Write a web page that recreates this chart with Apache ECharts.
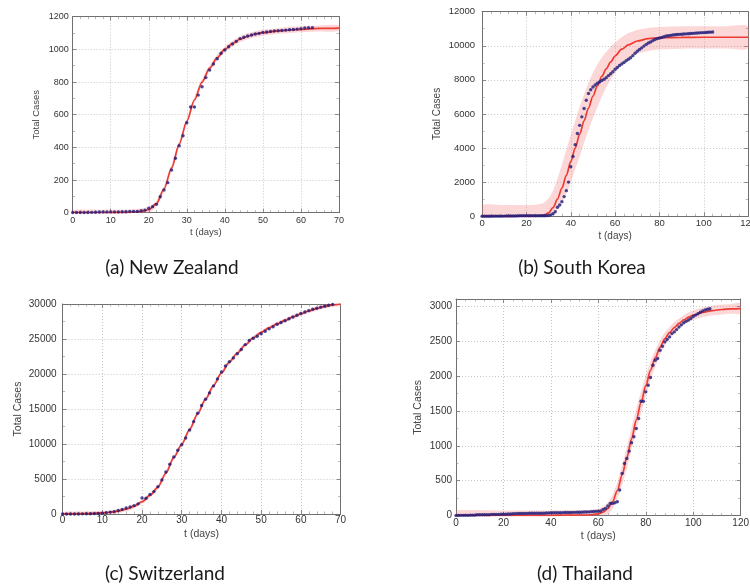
<!DOCTYPE html>
<html>
<head>
<meta charset="utf-8">
<script src="https://cdn.jsdelivr.net/npm/echarts@6/dist/echarts.min.js"></script>
<style>
  html, body { margin: 0; padding: 0; background: #fff; }
  #main { width: 750px; height: 586px; }
</style>
</head>
<body>
<div id="main"></div>
<script>
// observed total cases, one value per day (index = t in days)
const nzCases = [1,1,1,1,1,2,3,4,5,5,5,5,5,6,6,8,8,8,12,16,27,37,51,98,139,184,261,333,410,471,551,647,647,720,771,827,873,910,943,976,996,1016,1033,1049,1066,1074,1082,1088,1094,1098,1104,1106,1110,1112,1114,1116,1118,1120,1122,1124,1126,1131,1133,1133];
const krCases = [1,1,1,1,1,2,3,4,4,4,6,11,12,15,15,16,19,23,24,24,25,27,28,28,28,28,28,29,30,31,
  40,80,150,265,525,660,855,1150,1500,2000,2900,3500,4200,4850,5330,5830,6320,6800,7200,7420,
  7580,7700,7800,7880,7960,8040,8130,8250,8360,8480,8620,8730,8840,8930,9020,9120,9210,9300,9420,9560,
  9680,9780,9880,9980,10080,10160,10220,10300,10370,10420,10460,10490,10530,10570,10590,10610,10630,10650,10660,10670,
  10680,10690,10700,10710,10720,10730,10740,10750,10760,10770,10775,10780,10790,10800,10810];
const chCases = [1,1,8,8,10,18,27,42,56,90,
  120,200,270,330,500,660,850,1000,1200,1450,
  2300,2250,2800,3200,3900,4850,6000,7100,8150,9100,
  9900,10850,12000,13200,14400,15500,16400,17300,18300,19300,
  20300,21150,21750,22300,22900,23500,24200,24800,25100,25400,
  25750,26100,26450,26750,27100,27350,27600,27900,28150,28400,
  28650,28850,29050,29250,29400,29550,29680,29820,29950];
const thCases = [4,4,5,5,5,5,8,8,8,14,
  14,14,14,14,14,19,19,19,19,21,
  22,22,25,25,28,30,32,32,33,33,
  33,34,34,35,35,35,35,36,38,40,
  42,42,43,43,43,44,45,45,46,47,
  48,50,50,50,52,53,55,58,60,62,
  65,67,90,105,138,176,176,186,200,367,
  605,748,819,924,1043,1129,1248,1391,1638,1638,
  1772,1867,1977,2153,2224,2248,2367,2424,2486,2520,
  2558,2605,2629,2662,2700,2730,2760,2780,2800,2820,
  2850,2870,2890,2910,2930,2945,2955,2960];

// fitted curve with its confidence band, sampled at fitT days
const nzFitT = [0,10,15,18,20,22,24,26,28,30,32,34,36,38,40,42,44,46,48,50,55,60,65,70];
const nzFit = [0,0,2,8,18,55,145,275,420,560,690,800,885,950,1000,1035,1062,1080,1093,1102,1115,1123,1128,1130];
const nzLo = [0,0,0,0,0,37,127,257,402,542,672,782,867,932,982,1017,1044,1062,1075,1084,1097,1105,1110,1112];
const nzHi = [18,18,20,26,36,73,163,293,438,578,708,818,903,968,1018,1053,1080,1098,1111,1120,1133,1141,1146,1148];

const krFitT = [0,10,20,25,28,30,32,34,36,38,40,42,44,46,48,50,52,54,56,58,60,63,66,70,75,80,90,100,110,120];
const krFit = [0,0,0,10,60,200,500,1000,1650,2400,3200,4000,4800,5600,6350,7050,7650,8200,8650,9050,9400,9800,10050,10280,10420,10470,10490,10500,10500,10500];
const krLo = [0,0,0,0,0,0,80,350,750,1300,2000,2750,3500,4300,5050,5750,6400,7000,7550,8000,8400,8900,9250,9530,9700,9780,9830,9840,9840,9840];
const krHi = [650,650,650,680,800,1050,1500,2200,3000,3900,4750,5600,6400,7150,7850,8400,8900,9300,9650,9950,10200,10500,10750,10930,11050,11100,11150,11150,11150,11150];

const chFitT = [0,5,10,12,14,16,18,20,22,24,26,28,30,32,34,36,38,40,42,44,46,48,50,52,54,56,58,60,62,64,66,68,70];
const chFit = [20,50,150,250,420,700,1100,1750,2650,3850,5850,8050,9950,12100,14300,16400,18350,20150,21700,23000,24150,25150,25950,26600,27150,27650,28150,28600,29000,29350,29650,29880,30000];
const chLo = [0,0,0,0,120,400,800,1450,2350,3550,5550,7750,9650,11800,14000,16100,18050,19850,21400,22700,23850,24850,25650,26300,26850,27350,27850,28300,28700,29050,29350,29580,29700];
const chHi = [320,350,450,550,720,1000,1400,2050,2950,4150,6150,8350,10250,12400,14600,16700,18650,20450,22000,23300,24450,25450,26250,26900,27450,27950,28450,28900,29300,29650,29950,30180,30300];

const thFitT = [0,20,40,55,60,62,64,66,68,70,72,74,76,78,80,82,84,86,88,90,92,94,96,98,100,104,108,112,116,120];
const thFit = [5,5,5,10,25,50,100,200,360,580,830,1100,1370,1620,1860,2080,2260,2410,2530,2620,2690,2750,2800,2840,2870,2910,2935,2950,2958,2962];
const thLo = [0,0,0,0,0,0,20,100,240,440,680,950,1220,1470,1710,1940,2130,2300,2430,2530,2610,2680,2730,2770,2800,2840,2865,2880,2888,2892];
const thHi = [75,75,75,80,100,130,190,300,480,720,980,1260,1530,1780,2010,2210,2370,2510,2620,2700,2770,2820,2870,2910,2940,2980,3005,3020,3030,3035];

const captions = ['(a) New Zealand', '(b) South Korea', '(c) Switzerland', '(d) Thailand'];

const panels = [
  { cases: nzCases, fitT: nzFitT, fit: nzFit, lo: nzLo, hi: nzHi,
    xMax: 70, xStep: 10, yMax: 1200, yStep: 200,
    box: { left: 72.7, top: 16.7, width: 266.3, height: 196 },
    font: 9, nameFont: 9.5, xGap: 15, yGap: 31, xMargin: 3, yMargin: 4, cap: [172, 268] },
  { cases: krCases, fitT: krFitT, fit: krFit, lo: krLo, hi: krHi,
    xMax: 120, xStep: 20, yMax: 12000, yStep: 2000,
    box: { left: 482.1, top: 11.7, width: 266, height: 204.5 },
    font: 9.5, nameFont: 10, xGap: 15, yGap: 40, xMargin: 2, yMargin: 7, cap: [582, 268] },
  { cases: chCases, fitT: chFitT, fit: chFit, lo: chLo, hi: chHi,
    xMax: 70, xStep: 10, yMax: 30000, yStep: 5000,
    box: { left: 62.6, top: 304, width: 278, height: 210 },
    font: 10, nameFont: 10.5, xGap: 15, yGap: 39, xMargin: 1.5, yMargin: 6, cap: [165, 574] },
  { cases: thCases, fitT: thFitT, fit: thFit, lo: thLo, hi: thHi,
    xMax: 120, xStep: 20, yMax: 3100, yStep: 500,
    box: { left: 456, top: 299, width: 284.7, height: 216.7 },
    font: 10, nameFont: 10.5, xGap: 14.5, yGap: 32, xMargin: 2.5, yMargin: 4, cap: [585, 574] }
];

const chart = echarts.init(document.getElementById('main'), null, { renderer: 'canvas' });

const grid = [], xAxis = [], yAxis = [], series = [], graphic = [];

const FONT = 'Liberation Sans, Arial, sans-serif';
const axisLine = { show: true, onZero: false, lineStyle: { color: '#707070', width: 1 } };
const axisTick = { show: true, inside: true, length: 4, lineStyle: { color: '#707070', width: 0.8 } };
const splitLine = { show: true, lineStyle: { color: '#b8b8b8', width: 0.8, type: [1, 2] } };
const plain = (v) => String(v);

panels.forEach((p, i) => {
  grid.push({ left: p.box.left, top: p.box.top, width: p.box.width, height: p.box.height, outerBoundsMode: 'none', containLabel: false });

  const nameStyle = { fontSize: p.nameFont, color: '#444', fontFamily: FONT };
  const xMinor = { show: true, splitNumber: 5, length: 2.5, lineStyle: { color: '#888', width: 0.6 } };
  const yMinor = { show: true, splitNumber: 2, length: 2.5, lineStyle: { color: '#888', width: 0.6 } };

  xAxis.push({
    type: 'value', gridIndex: i, position: 'bottom', min: 0, max: p.xMax, interval: p.xStep,
    name: 't (days)', nameLocation: 'middle', nameGap: p.xGap, nameTextStyle: nameStyle,
    axisLine, axisTick, minorTick: xMinor, splitLine,
    axisLabel: { fontSize: p.font, color: '#333', margin: p.xMargin, fontFamily: FONT, formatter: plain, hideOverlap: false }
  });
  xAxis.push({
    type: 'value', gridIndex: i, position: 'top', min: 0, max: p.xMax, interval: p.xStep,
    axisLine, axisTick, minorTick: xMinor, splitLine: { show: false }, axisLabel: { show: false }
  });
  yAxis.push({
    type: 'value', gridIndex: i, position: 'left', min: 0, max: p.yMax, interval: p.yStep,
    name: 'Total Cases', nameLocation: 'middle', nameGap: p.yGap, nameTextStyle: nameStyle,
    axisLine, axisTick, minorTick: yMinor, splitLine,
    axisLabel: { fontSize: p.font, color: '#333', margin: p.yMargin, fontFamily: FONT, formatter: plain,
      showMaxLabel: p.yMax % p.yStep === 0 }
  });
  yAxis.push({
    type: 'value', gridIndex: i, position: 'right', min: 0, max: p.yMax, interval: p.yStep,
    axisLine, axisTick, minorTick: yMinor, splitLine: { show: false }, axisLabel: { show: false }
  });

  const ax = { xAxisIndex: 2 * i, yAxisIndex: 2 * i };
  // confidence band drawn as one polygon: upper edge forward, lower edge back
  series.push(Object.assign({
    type: 'custom', data: [[0, 0]], clip: true, silent: true, z: 1,
    renderItem: (params, api) => {
      const pts = [];
      p.fitT.forEach((t, k) => pts.push(api.coord([t, p.hi[k]])));
      for (let k = p.fitT.length - 1; k >= 0; k--) pts.push(api.coord([p.fitT[k], p.lo[k]]));
      return {
        type: 'polygon', shape: { points: pts, smooth: 0.25 },
        style: { fill: 'rgba(240,110,110,0.28)' }
      };
    }
  }, ax));
  // fitted curve
  series.push(Object.assign({
    type: 'line', data: p.fitT.map((t, k) => [t, p.fit[k]]),
    showSymbol: false, symbol: 'none', smooth: 0.3, smoothMonotone: 'x',
    lineStyle: { color: '#ee3b33', width: 1.7 }, silent: true, z: 2
  }, ax));
  // observations
  series.push(Object.assign({
    type: 'scatter', data: p.cases.map((v, d) => [d, v]),
    symbol: 'circle', symbolSize: 3.4, itemStyle: { color: '#1b1a7a' }, silent: true, z: 3
  }, ax));

  graphic.push({
    type: 'text', x: p.cap[0], y: p.cap[1],
    style: { text: captions[i], font: '19px Lato', fill: '#1a1a1a', align: 'center', verticalAlign: 'middle' }
  });
});

chart.setOption({
  animation: false,
  backgroundColor: '#fff',
  grid, xAxis, yAxis, series, graphic
});
</script>
</body>
</html>
